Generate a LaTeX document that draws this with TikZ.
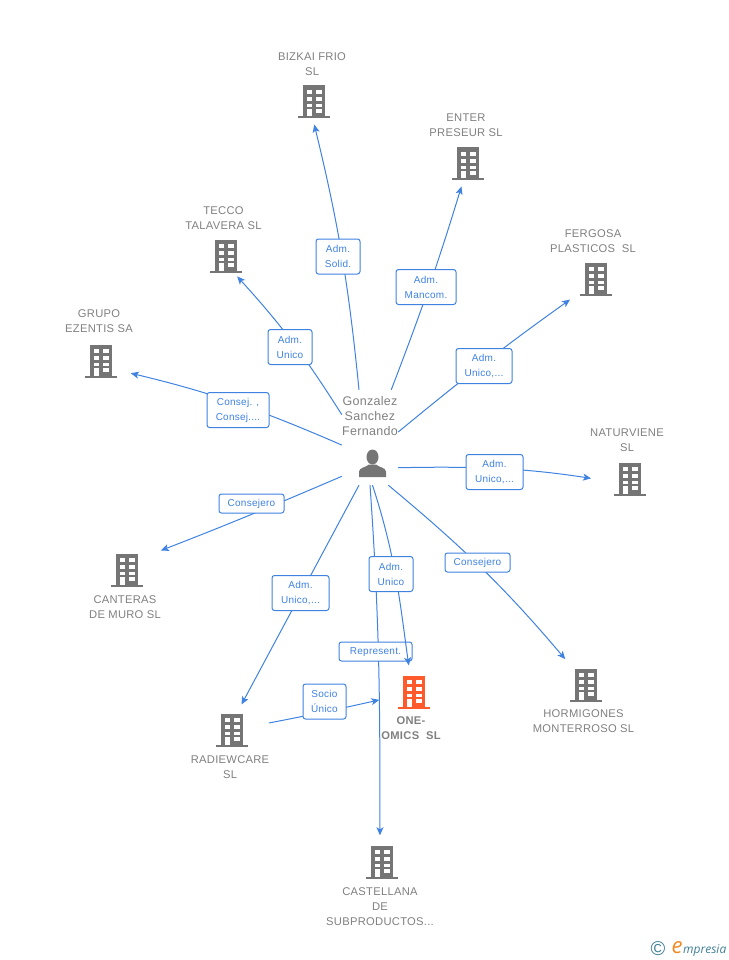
\documentclass[tikz,border=0pt]{standalone}
\usepackage{fontspec}
\setmainfont[LetterSpace=2.5]{Liberation Sans}
\newfontfamily\logofont{Open Sans}
\usetikzlibrary{calc,arrows.meta,positioning}
\definecolor{linkblue}{HTML}{3F82E0}
\definecolor{namegrey}{HTML}{808080}
\definecolor{bldgrey}{HTML}{757575}
\definecolor{bldorange}{HTML}{FF5A2B}
\definecolor{logoteal}{HTML}{3F7F96}
\definecolor{logoorange}{HTML}{F08A24}
\tikzset{
    bld/.style={
        rectangle, minimum width=32pt, minimum height=33pt, inner sep=0pt,
        path picture={
            \begin{scope}[shift={(path picture bounding box.center)}]
                \fill[#1] (-11,-16.5) rectangle (11,15);
                \fill[#1] (-16,14.5) rectangle (16,16.5);
                \foreach \wx in {-7.5,2} {
                    \fill[white] (\wx,-12.2) rectangle +(5.5,4);
                    \fill[white] (\wx,-4.8) rectangle +(5.5,4);
                    \fill[white] (\wx,1.8) rectangle +(5.5,3.4);
                }
                \fill[white] (-7.5,6.8) rectangle (-2,14.5);
                \fill[white] (2,6.8) rectangle (7.5,11);
            \end{scope}
        }
    },
    person/.style={
        rectangle, minimum width=28pt, minimum height=28pt, inner sep=0pt,
        path picture={
            \begin{scope}[shift={(path picture bounding box.center)}]
                \fill[bldgrey] (0,-6.5) ellipse (6 and 7.5);
                \fill[bldgrey] (-13.5,13.5) -- (-13.5,8) .. controls (-13,4) and (-7,4) .. (-3.5,1)
                    -- (3.5,1) .. controls (7,4) and (13,4) .. (13.5,8) -- (13.5,13.5) -- cycle;
            \end{scope}
        }
    },
    hub/.style={rectangle, minimum width=56pt, minimum height=95pt, inner sep=0pt},
    bldname/.style={font=\fontsize{11.2}{15}\selectfont, text=namegrey, align=center, inner sep=0pt},
    ceoname/.style={font=\fontsize{12.5}{15}\selectfont, text=namegrey, align=center, inner sep=0pt},
    tag/.style={
        draw=linkblue, fill=white, rounded corners=2.5pt, line width=1pt, inner sep=0pt, align=center,
        text=linkblue, font=\fontsize{10}{15}\selectfont, minimum height=35pt
    },
    tagflat/.style={tag, minimum height=19pt, text height=6pt, text depth=0pt},
    conn/.style={draw=linkblue, line width=1pt, -{Stealth[length=8pt,width=7pt,inset=2pt]}}
}
\begin{document}
\begin{tikzpicture}[x=1pt,y=-1pt]
    \useasboundingbox (0,0) rectangle (728,960);

    \node[hub] (ceo) at (370,437.5) {};
    \node[person] (ceoicon) at (372.5,463.5) {};
    \node[ceoname] (ceolabel) at (370,416) {Gonzalez\\Sanchez\\Fernando};

    \node[bld=bldgrey] (bizkai) at (314,102) {};
    \node[bld=bldgrey] (enter) at (468,164) {};
    \node[bld=bldgrey] (tecco) at (226,256) {};
    \node[bld=bldgrey] (fergosa) at (596,279) {};
    \node[bld=bldgrey] (grupo) at (101,361) {};
    \node[bld=bldgrey] (naturviene) at (630,479) {};
    \node[bld=bldgrey] (canteras) at (127,570) {};
    \node[bld=bldgrey] (hormigones) at (586,685) {};
    \node[bld=bldgrey] (radiewcare) at (232,730) {};
    \node[bld=bldorange] (oneomics) at (414,692) {};
    \node[bld=bldgrey] (castellana) at (382,862) {};

    \node[bldname, above=9pt of bizkai, xshift=-2pt] (bizkailabel) {BIZKAI FRIO\\SL};
    \node[bldname, above=10pt of enter, xshift=-2pt] (enterlabel) {ENTER\\PRESEUR SL};
    \node[bldname, above=9pt of tecco, xshift=-2.5pt] (teccolabel) {TECCO\\TALAVERA SL};
    \node[bldname, above=9pt of fergosa, xshift=-3pt] (fergosalabel) {FERGOSA\\PLASTICOS\ \ SL};
    \node[bldname, above=11pt of grupo, xshift=-2pt] (grupolabel) {GRUPO\\EZENTIS SA};
    \node[bldname, above=10pt of naturviene, xshift=-3pt] (naturvienelabel) {NATURVIENE\\SL};
    \node[bldname, below=9pt of canteras, xshift=-2pt] (canteraslabel) {CANTERAS\\DE MURO SL};
    \node[bldname, below=8pt of hormigones, xshift=-2.5pt] (hormigoneslabel) {HORMIGONES\\MONTERROSO SL};
    \node[bldname, below=9pt of radiewcare, xshift=-2pt] (radiewcarelabel) {RADIEWCARE\\SL};
    \node[bldname, font=\fontsize{11.2}{15}\selectfont\bfseries, below=8pt of oneomics, xshift=-3pt] (oneomicslabel) {ONE-\\OMICS\ \ SL};
    \node[bldname, below=9pt of castellana, xshift=-2pt] (castellanalabel) {CASTELLANA\\DE\\SUBPRODUCTOS...};

    \draw[conn, shorten >=6pt] (ceo.103) to[bend right=4] (bizkai.266);
    \draw[conn, shorten >=6pt] (ceo.66.1) to[bend right=2] (enter.254.7);
    \draw[conn, shorten >=5pt] (ceo.141.2) to[bend right=5] (tecco.295.5);
    \draw[conn, shorten >=12pt] (ceo.11.1) to[bend left=2] (fergosa.220);
    \draw[conn, shorten >=14pt] (ceo.195) to[bend right=5] (grupo.331);
    \draw[conn, shorten >=23pt] (ceo.313.5) to[bend left=5] (naturviene.190);
    \draw[conn, shorten >=19pt] (ceo.234) to[bend left=1] (canteras.38);
    \draw[conn, shorten >=12pt] (ceo.291.8) to[bend left=5] (hormigones.128.9);
    \draw[conn, shorten >=10pt] (ceo.257) -- (radiewcare.74.9);
    \draw[conn, shorten >=10pt] (ceo.270) to[out=-86,in=90] (castellana.97);
    \draw[conn, shorten <=21pt, shorten >=19pt] (radiewcare) to[bend right=1] (oneomics);

    \node[tagflat, minimum width=73pt] (represent) at (375.5,651.5) {Represent.};
    \draw[conn, shorten >=10pt] (ceo.273.6) to[out=-72,in=98] (oneomics.103);

    \node[tag, minimum width=44pt] (solid) at (338,256.5) {Adm.\\Solid.};
    \node[tag, minimum width=60pt] (mancom) at (426,287) {Adm.\\Mancom.};
    \node[tag, minimum width=44pt] (unicotecco) at (290,347) {Adm.\\Unico};
    \node[tag, minimum width=56pt] (unicofergosa) at (484,366) {Adm.\\Unico,...};
    \node[tag, minimum width=62pt] (consej) at (238,410) {Consej. ,\\Consej....};
    \node[tag, minimum width=57pt] (unicoratur) at (494.5,472) {Adm.\\Unico,...};
    \node[tagflat, minimum width=65pt] (consejeroa) at (251.5,503.5) {Consejero};
    \node[tagflat, minimum width=65pt] (consejerob) at (477.5,562.5) {Consejero};
    \node[tag, minimum width=57pt] (unicoradiew) at (300.5,593) {Adm.\\Unico,...};
    \node[tag, minimum width=44pt] (unicoone) at (391,574) {Adm.\\Unico};
    \node[tag, minimum width=43pt] (socio) at (324.5,701.5) {Socio\\Único};

    \node[text=logoteal, font=\fontsize{20}{20}\selectfont, inner sep=0pt] (logoc) at (658,949) {\textcopyright};
    \node[text=logoorange, font=\logofont\itshape\fontsize{22}{22}\selectfont, inner sep=0pt] (logoe) at (677,948) {e};
    \node[text=logoteal, font=\logofont\itshape\fontsize{12}{12}\selectfont, inner sep=0pt, anchor=west] (logotext) at (683,950.5) {mpresia};
\end{tikzpicture}
\end{document}
